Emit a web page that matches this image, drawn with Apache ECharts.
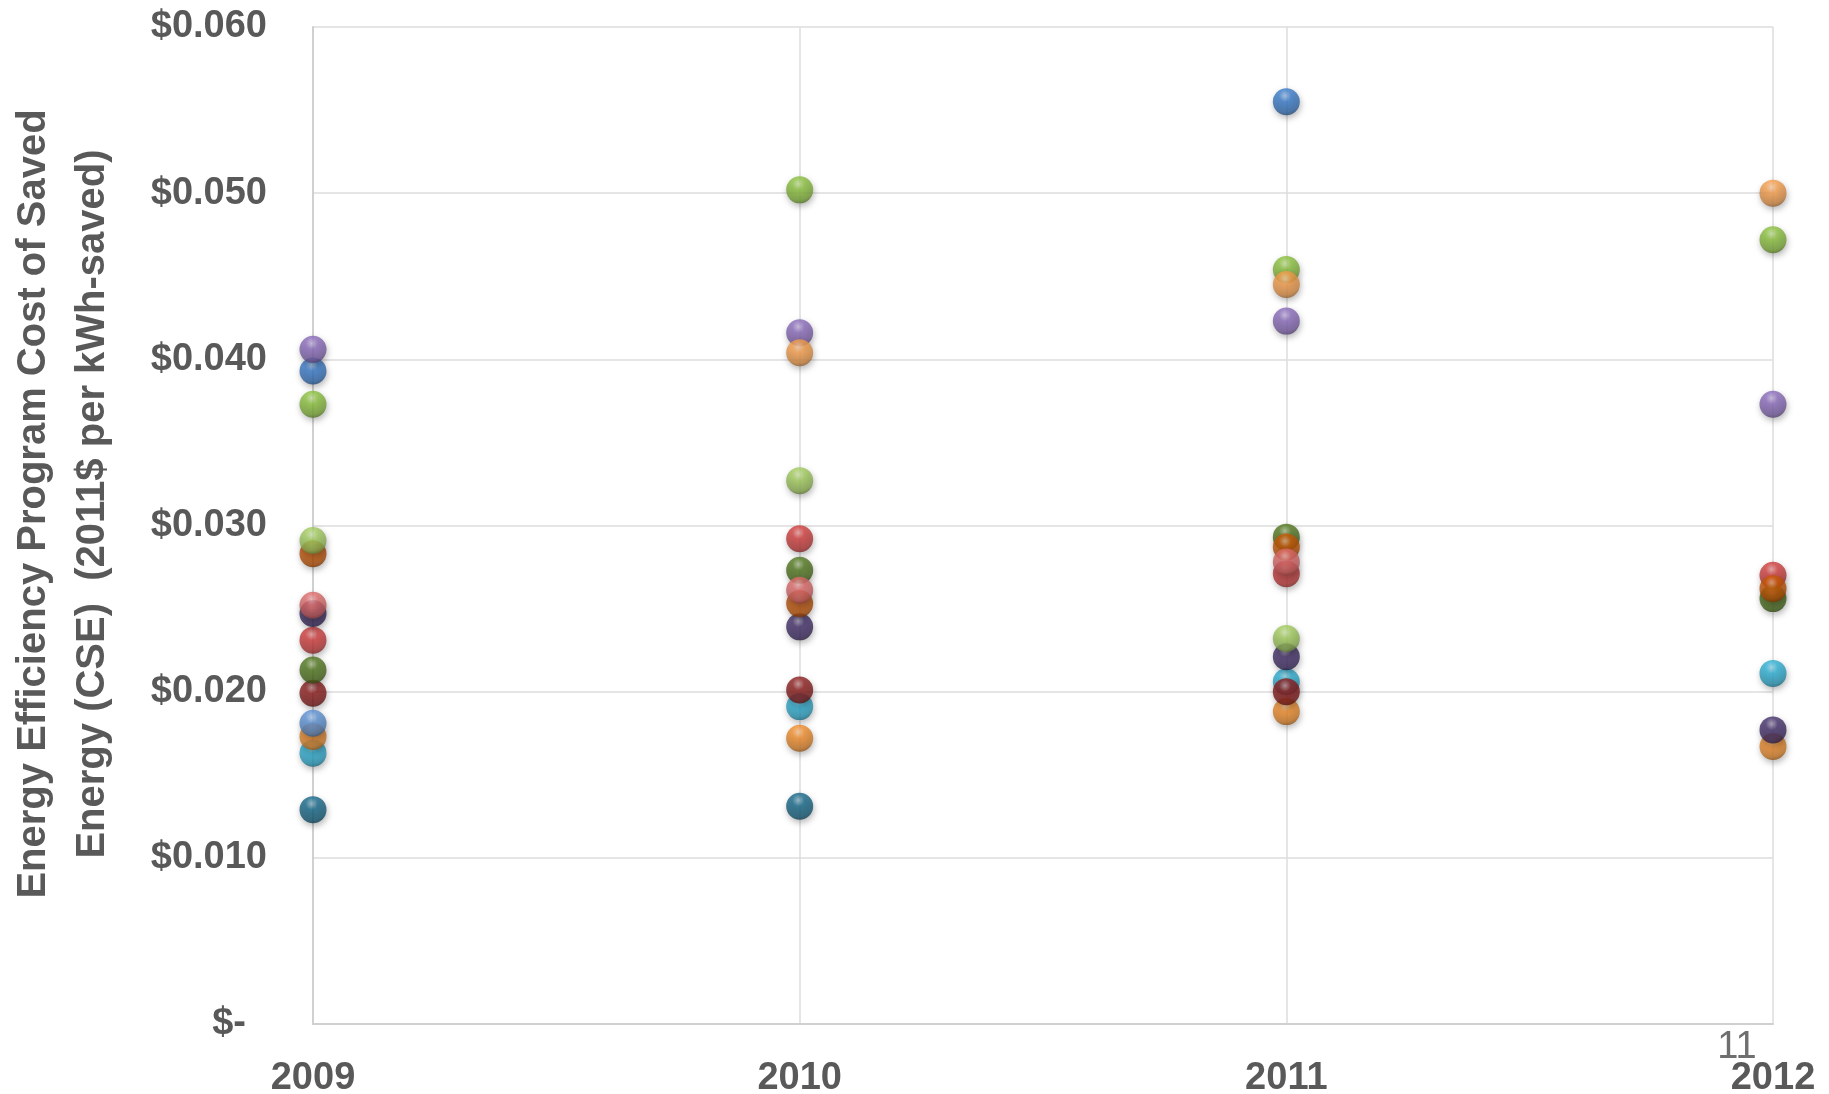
<!DOCTYPE html>
<html>
<head>
<meta charset="utf-8">
<title>Energy Efficiency Program Cost of Saved Energy</title>
<script src="https://cdn.jsdelivr.net/npm/echarts@6/dist/echarts.min.js"></script>
<style>
  html, body { margin: 0; padding: 0; background: #ffffff; }
  #chart { width: 1829px; height: 1094px; }
</style>
</head>
<body>
<div id="chart"></div>
<script>
// Program years on the horizontal axis
const years = [2009, 2010, 2011, 2012];

// Cost of saved energy ($ per kWh-saved, 2011$), one list per program, ordered by year
const progBlue        = [0.0393, null,   0.0555, null];
const progRed         = [0.0231, 0.0292, 0.0271, 0.0270];
const progGreen       = [0.0373, 0.0502, 0.0454, 0.0472];
const progPurple      = [0.0406, 0.0416, 0.0423, 0.0373];
const progAqua        = [0.0163, 0.0191, 0.0206, 0.0211];
const progOrange      = [0.0173, 0.0172, 0.0188, 0.0167];
const progDarkRed     = [0.0199, 0.0201, 0.0200, null];
const progDarkGreen   = [0.0213, 0.0273, 0.0293, 0.0256];
const progDarkPurple  = [0.0247, 0.0239, 0.0221, 0.0177];
const progDarkAqua    = [0.0129, 0.0131, null,   null];
const progDarkOrange  = [0.0283, 0.0253, 0.0287, 0.0262];
const progLightBlue   = [0.0181, null,   null,   null];
const progLightRed    = [0.0252, 0.0261, 0.0278, null];
const progLightGreen  = [0.0291, 0.0327, 0.0232, null];
const progLightOrange = [null,   0.0404, 0.0445, 0.0500];

// Y axis tick values and labels
const yTicks = [0, 0.01, 0.02, 0.03, 0.04, 0.05, 0.06];
const yTickLabels = ['$-', '$0.010', '$0.020', '$0.030', '$0.040', '$0.050', '$0.060'];

const titleLines = ['Energy Efficiency Program Cost of Saved', 'Energy (CSE)  (2011$ per kWh-saved)'];
const slideNumber = '11';

const programs = [
  { name: 'Program 1',  color: '#3A7CCB', values: progBlue },
  { name: 'Program 2',  color: '#D23E3E', values: progRed },
  { name: 'Program 3',  color: '#8CC23E', values: progGreen },
  { name: 'Program 4',  color: '#8B6CBC', values: progPurple },
  { name: 'Program 5',  color: '#2FB2D6', values: progAqua },
  { name: 'Program 6',  color: '#F38E2C', values: progOrange },
  { name: 'Program 7',  color: '#8E1E1E', values: progDarkRed },
  { name: 'Program 8',  color: '#52781F', values: progDarkGreen },
  { name: 'Program 9',  color: '#44306B', values: progDarkPurple },
  { name: 'Program 10', color: '#17698A', values: progDarkAqua },
  { name: 'Program 11', color: '#CC5A08', values: progDarkOrange },
  { name: 'Program 12', color: '#5E93D6', values: progLightBlue },
  { name: 'Program 13', color: '#E06C6C', values: progLightRed },
  { name: 'Program 14', color: '#A3CD5E', values: progLightGreen },
  { name: 'Program 15', color: '#F7A04E', values: progLightOrange }
];

// blend a hex colour toward white (t>0) or black (t<0)
function shade(hex, t) {
  const n = parseInt(hex.slice(1), 16);
  let r = (n >> 16) & 255, g = (n >> 8) & 255, b = n & 255;
  const target = t > 0 ? 255 : 0;
  const k = Math.abs(t);
  r = Math.round(r + (target - r) * k);
  g = Math.round(g + (target - g) * k);
  b = Math.round(b + (target - b) * k);
  return 'rgb(' + r + ',' + g + ',' + b + ')';
}

// glossy sphere fill
function sphere(hex) {
  return new echarts.graphic.RadialGradient(0.45, 0.28, 0.75, [
    { offset: 0,    color: shade(hex, 0.5) },
    { offset: 0.3,  color: hex },
    { offset: 0.8,  color: shade(hex, -0.2) },
    { offset: 1,    color: shade(hex, -0.45) }
  ]);
}

const gray = '#595959';
const labelFont = 'Liberation Sans, Arial, sans-serif';

const chart = echarts.init(document.getElementById('chart'), null, { renderer: 'canvas' });

chart.setOption({
  backgroundColor: '#ffffff',
  animation: false,
  grid: { left: 313, right: 56, top: 27, bottom: 70, containLabel: false, outerBoundsMode: 'none' },
  xAxis: {
    type: 'value',
    min: years[0],
    max: years[years.length - 1],
    interval: 1,
    axisLine: { show: true, lineStyle: { color: '#d0d0d0', width: 2 } },
    axisTick: { show: false },
    splitLine: { show: true, lineStyle: { color: '#dcdcdc', width: 1.5 } },
    axisLabel: {
      margin: 36,
      color: gray,
      fontFamily: labelFont,
      fontWeight: 'bold',
      fontSize: 38,
      hideOverlap: false,
      formatter: v => String(v)
    }
  },
  yAxis: {
    type: 'value',
    min: yTicks[0],
    max: yTicks[yTicks.length - 1],
    interval: 0.01,
    axisLine: { show: true, lineStyle: { color: '#d0d0d0', width: 2 } },
    axisTick: { show: false },
    splitLine: { show: true, lineStyle: { color: '#dcdcdc', width: 1.5 } },
    axisLabel: {
      margin: 46,
      color: gray,
      fontFamily: labelFont,
      fontWeight: 'bold',
      fontSize: 38,
      formatter: v => {
        const i = yTicks.findIndex(t => Math.abs(t - v) < 1e-9);
        const s = i >= 0 ? yTickLabels[i] : '';
        return v === 0 ? '{z|' + s + '}' : s;
      },
      rich: {
        z: {
          color: gray, fontFamily: labelFont, fontWeight: 'bold', fontSize: 38,
          padding: [0, 21, 0, 0]
        }
      }
    }
  },
  graphic: [
    {
      type: 'text', x: 34, y: 504, rotation: Math.PI / 2,
      style: {
        text: titleLines[0], fill: gray, font: 'bold 40px ' + labelFont,
        align: 'center', verticalAlign: 'middle'
      }
    },
    {
      type: 'text', x: 93, y: 504, rotation: Math.PI / 2,
      style: {
        text: titleLines[1], fill: gray, font: 'bold 40px ' + labelFont,
        align: 'center', verticalAlign: 'middle'
      }
    },
    {
      type: 'text', x: 1737, y: 1048,
      style: {
        text: slideNumber, fill: '#6f6f6f', font: '38px ' + labelFont,
        align: 'center', verticalAlign: 'middle'
      }
    }
  ],
  series: programs.map(p => ({
    name: p.name,
    type: 'scatter',
    symbol: 'circle',
    symbolSize: 27,
    data: years.map((y, i) => p.values[i] == null ? null : [y, p.values[i]]).filter(d => d),
    itemStyle: {
      color: sphere(p.color),
      shadowBlur: 6,
      shadowColor: 'rgba(0,0,0,0.35)',
      shadowOffsetX: 1,
      shadowOffsetY: 3
    },
    emphasis: { disabled: true }
  }))
});
</script>
</body>
</html>
